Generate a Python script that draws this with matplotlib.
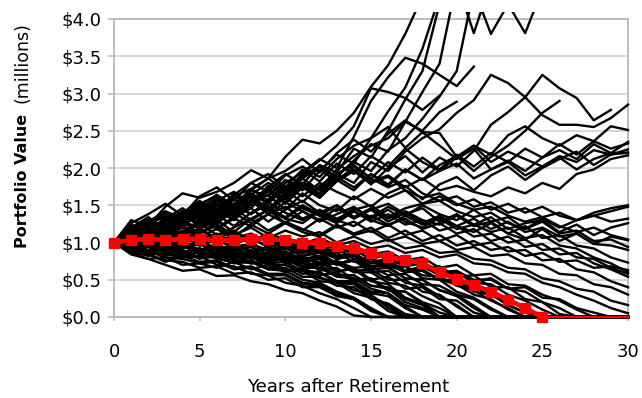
import matplotlib
matplotlib.use('Agg')
import matplotlib.pyplot as plt
from matplotlib.patches import Rectangle

nan = float('nan')

years = list(range(31))

# red reference path (markers up to year 25, then it sits on zero)
red_values = [1.00, 1.03, 1.05, 1.03, 1.05, 1.05, 1.03, 1.03, 1.05, 1.05,
              1.03, 1.00, 1.00, 0.95, 0.92, 0.86, 0.80, 0.77, 0.72, 0.60,
              0.51, 0.43, 0.34, 0.23, 0.12, 0.00, 0.00, 0.00, 0.00, 0.00, 0.00]

# simulated paths that run high (several leave the top of the chart)
high_paths = [
    [1.00, 1.30, 1.22, 1.48, 1.66, 1.60, 1.68, 1.80, 1.97, 1.86, 2.15, 2.38, 2.33, 2.50, 2.74, 3.09, 3.38, 3.80, 4.30, nan,
     nan, nan, nan, nan, nan, nan, nan, nan, nan, nan, nan],
    [1.00, 1.10, 1.28, 1.20, 1.42, 1.36, 1.58, 1.48, 1.70, 1.62, 1.84, 1.70, 1.96, 2.18, 2.06, 2.40, 2.76, 3.08, 3.60, 4.30,
     nan, nan, nan, nan, nan, nan, nan, nan, nan, nan, nan],
    [1.00, 1.22, 1.08, 1.30, 1.26, 1.48, 1.40, 1.66, 1.50, 1.74, 1.92, 1.78, 2.04, 1.94, 2.26, 2.14, 2.50, 2.92, 3.30, 4.20,
     nan, nan, nan, nan, nan, nan, nan, nan, nan, nan, nan],
    [1.00, 1.04, 1.24, 1.16, 1.40, 1.52, 1.34, 1.58, 1.46, 1.70, 1.60, 1.86, 2.02, 1.88, 2.10, 2.32, 2.22, 2.62, 3.02, 3.40,
     4.50, 3.81, 4.50, nan, nan, nan, nan, nan, nan, nan, nan],
    [1.00, 1.14, 1.00, 1.18, 1.10, 1.32, 1.44, 1.30, 1.52, 1.68, 1.54, 1.76, 1.64, 1.90, 2.08, 1.96, 2.24, 2.40, 2.66, 2.96,
     3.30, 4.40, 3.80, 4.20, 3.81, 4.40, nan, nan, nan, nan, nan],
    [1.00, 1.18, 1.30, 1.16, 1.36, 1.50, 1.38, 1.62, 1.72, 1.56, 1.80, 1.94, 2.12, 2.00, 2.42, 2.90, 3.22, 3.48, 3.40, 3.25,
     3.10, 3.36, nan, nan, nan, nan, nan, nan, nan, nan, nan],
    [1.00, 1.06, 1.24, 1.36, 1.22, 1.44, 1.56, 1.40, 1.64, 1.80, 1.68, 1.92, 2.10, 2.30, 2.56, 3.07, 3.02, 2.94, 2.78, 2.97,
     nan, nan, nan, nan, nan, nan, nan, nan, nan, nan, nan],
    [1.00, 1.02, 1.18, 1.06, 1.26, 1.20, 1.40, 1.32, 1.56, 1.70, 1.58, 1.80, 1.72, 1.98, 2.16, 2.30, 2.40, 2.62, 2.50, 2.75,
     2.89, nan, nan, nan, nan, nan, nan, nan, nan, nan, nan],
    [1.00, 1.12, 0.98, 1.16, 1.30, 1.18, 1.36, 1.52, 1.38, 1.58, 1.70, 1.54, 1.76, 1.92, 1.80, 2.08, 1.96, 2.22, 2.40, 2.52,
     2.74, 2.91, 3.25, 3.14, 2.95, 2.71, 2.58, 2.58, 2.55, 2.67, 2.85],
    [1.00, 1.04, 1.20, 1.08, 1.26, 1.40, 1.24, 1.46, 1.58, 1.42, 1.64, 1.78, 1.60, 1.82, 1.96, 1.78, 2.00, 2.16, 1.94, 2.14,
     2.02, 2.23, 2.58, 2.75, 2.95, 3.25, 3.07, 2.94, 2.64, 2.78, nan],
    [1.00, 1.20, 1.08, 1.28, 1.42, 1.26, 1.50, 1.36, 1.58, 1.72, 1.52, 1.74, 1.60, 1.84, 1.70, 1.92, 1.76, 1.98, 1.84, 2.04,
     2.16, 1.96, 2.15, 2.30, 2.50, 2.74, 2.90, nan, nan, nan, nan],
    [1.00, 1.14, 1.30, 1.16, 1.36, 1.52, 1.62, 1.46, 1.70, 1.86, 1.96, 2.12, 1.94, 2.20, 2.38, 2.22, 2.46, 2.64, 2.48, 2.30,
     2.12, 2.26, 1.98, 2.10, 1.96, 2.14, 2.24, 2.12, 2.32, 2.20, 2.35],
    [1.00, 1.08, 1.26, 1.40, 1.30, 1.54, 1.44, 1.64, 1.80, 1.68, 1.90, 2.02, 1.88, 2.12, 2.30, 2.40, 2.55, 2.27, 2.48, 2.47,
     2.15, 2.30, 2.08, 2.22, 2.12, 2.02, 2.16, 2.08, 2.24, 2.18, 2.25],
]

# paths that wander between $1.5 and $2.5
mid_paths = [
    [1.00, 1.20, 1.34, 1.18, 1.40, 1.56, 1.38, 1.62, 1.50, 1.72, 1.58, 1.80, 1.66, 1.88, 1.74, 1.92, 1.78, 1.98, 1.84, 1.96,
     2.06, 1.86, 1.98, 2.08, 1.90, 2.02, 2.14, 1.98, 2.12, 2.20, 2.20],
    [1.00, 1.08, 1.26, 1.40, 1.24, 1.46, 1.60, 1.42, 1.66, 1.52, 1.74, 1.86, 1.70, 1.92, 2.04, 1.86, 2.08, 1.94, 2.14, 1.98,
     2.18, 2.02, 2.20, 2.08, 2.26, 2.14, 2.32, 2.18, 2.36, 2.26, 2.33],
    [1.00, 1.26, 1.38, 1.52, 1.36, 1.62, 1.74, 1.56, 1.80, 1.92, 1.74, 1.98, 1.82, 2.06, 1.92, 2.16, 2.02, 2.26, 2.08, 1.96,
     2.14, 2.30, 2.18, 2.44, 2.56, 2.40, 2.30, 2.44, 2.36, 2.56, 2.51],
    [1.00, 1.16, 1.02, 1.24, 1.38, 1.22, 1.46, 1.30, 1.52, 1.64, 1.44, 1.66, 1.50, 1.42, 1.62, 1.48, 1.66, 1.76, 1.58, 1.78,
     1.88, 1.70, 1.90, 2.02, 1.84, 2.00, 2.12, 2.22, 2.04, 2.18, 2.21],
    [1.00, 1.06, 1.22, 1.10, 1.30, 1.44, 1.26, 1.50, 1.62, 1.44, 1.68, 1.80, 1.62, 1.84, 1.98, 1.82, 1.90, 1.74, 1.86, 1.70,
     1.76, 1.68, 1.62, 1.74, 1.66, 1.80, 1.72, 1.92, 1.98, 2.12, 2.17],
    [1.00, 1.14, 1.30, 1.20, 1.42, 1.34, 1.56, 1.68, 1.52, 1.76, 1.64, 1.88, 1.98, 1.82, 2.02, 1.86, 1.74, 1.84, 1.66, 1.56,
     1.62, 1.48, 1.54, 1.40, 1.46, 1.34, 1.40, 1.30, 1.36, 1.28, 1.32],
    [1.00, 1.22, 1.10, 1.32, 1.46, 1.30, 1.52, 1.40, 1.64, 1.54, 1.76, 1.62, 1.80, 1.68, 1.58, 1.72, 1.60, 1.70, 1.52, 1.62,
     1.50, 1.58, 1.44, 1.52, 1.40, 1.48, 1.36, 1.30, 1.40, 1.46, 1.50],
    [1.00, 1.10, 1.28, 1.42, 1.32, 1.50, 1.64, 1.50, 1.72, 1.86, 1.70, 1.90, 2.02, 1.86, 1.96, 1.80, 1.88, 1.70, 1.60, 1.66,
     1.52, 1.44, 1.48, 1.36, 1.28, 1.34, 1.22, 1.14, 1.20, 1.10, 1.04],
]

# paths still above zero at year 30, mostly $0 - $1.5
survivor_paths = [
    [1.00, 1.08, 0.96, 1.06, 1.12, 1.00, 1.10, 1.16, 1.02, 1.12, 1.04, 0.98, 1.06, 0.96, 1.02, 0.92, 0.96, 0.86, 0.90, 0.80,
     0.84, 0.72, 0.70, 0.60, 0.58, 0.46, 0.40, 0.30, 0.22, 0.12, 0.05],
    [1.00, 1.16, 1.04, 1.22, 1.28, 1.12, 1.24, 1.10, 1.20, 1.06, 1.16, 1.08, 1.14, 1.00, 1.08, 0.98, 1.04, 0.92, 0.96, 0.86,
     0.88, 0.78, 0.76, 0.66, 0.64, 0.52, 0.48, 0.38, 0.34, 0.22, 0.16],
    [1.00, 0.94, 1.06, 1.12, 0.98, 1.14, 1.22, 1.08, 1.24, 1.12, 1.26, 1.14, 1.08, 1.22, 1.10, 1.16, 1.02, 1.08, 0.98, 1.02,
     0.90, 0.94, 0.82, 0.84, 0.72, 0.70, 0.58, 0.56, 0.44, 0.40, 0.30],
    [1.00, 1.12, 1.24, 1.08, 1.26, 1.36, 1.18, 1.32, 1.22, 1.38, 1.26, 1.16, 1.32, 1.20, 1.28, 1.14, 1.24, 1.10, 1.16, 1.02,
     1.10, 0.96, 1.00, 0.88, 0.90, 0.76, 0.78, 0.64, 0.60, 0.48, 0.40],
    [1.00, 1.02, 1.16, 1.06, 1.22, 1.12, 1.28, 1.40, 1.26, 1.38, 1.48, 1.32, 1.42, 1.30, 1.22, 1.36, 1.24, 1.32, 1.18, 1.26,
     1.12, 1.18, 1.02, 1.08, 0.94, 0.98, 0.84, 0.86, 0.72, 0.64, 0.54],
    [1.00, 1.22, 1.10, 1.30, 1.40, 1.22, 1.34, 1.46, 1.30, 1.44, 1.32, 1.48, 1.36, 1.26, 1.42, 1.30, 1.22, 1.36, 1.24, 1.32,
     1.18, 1.24, 1.14, 1.20, 1.06, 1.10, 0.96, 0.92, 0.80, 0.72, 0.60],
    [1.00, 1.10, 0.98, 1.14, 1.24, 1.36, 1.20, 1.34, 1.46, 1.28, 1.44, 1.56, 1.40, 1.50, 1.34, 1.46, 1.32, 1.42, 1.30, 1.24,
     1.36, 1.22, 1.28, 1.12, 1.22, 1.06, 1.10, 0.96, 0.92, 0.80, 0.73],
    [1.00, 1.18, 1.30, 1.14, 1.34, 1.46, 1.28, 1.48, 1.56, 1.38, 1.54, 1.42, 1.30, 1.46, 1.32, 1.44, 1.28, 1.40, 1.26, 1.36,
     1.22, 1.32, 1.18, 1.28, 1.14, 1.20, 1.08, 1.12, 0.98, 0.96, 0.90],
    [1.00, 1.00, 1.14, 1.26, 1.10, 1.28, 1.38, 1.22, 1.40, 1.50, 1.32, 1.26, 1.42, 1.30, 1.46, 1.34, 1.48, 1.36, 1.50, 1.38,
     1.30, 1.44, 1.28, 1.34, 1.18, 1.28, 1.12, 1.16, 1.02, 1.04, 0.94],
    [1.00, 1.14, 1.24, 1.36, 1.20, 1.42, 1.52, 1.34, 1.56, 1.42, 1.60, 1.46, 1.36, 1.50, 1.34, 1.44, 1.52, 1.38, 1.46, 1.28,
     1.38, 1.24, 1.34, 1.18, 1.26, 1.30, 1.14, 1.24, 1.10, 1.20, 1.26],
    [1.00, 1.04, 1.18, 1.30, 1.38, 1.22, 1.40, 1.52, 1.62, 1.46, 1.34, 1.50, 1.38, 1.28, 1.44, 1.50, 1.34, 1.46, 1.52, 1.56,
     1.42, 1.34, 1.40, 1.26, 1.18, 1.32, 1.20, 1.30, 1.36, 1.42, 1.48],
    [1.00, 0.94, 1.08, 1.18, 1.02, 1.18, 1.30, 1.14, 1.32, 1.44, 1.26, 1.42, 1.28, 1.38, 1.48, 1.32, 1.44, 1.28, 1.20, 1.34,
     1.22, 1.14, 1.26, 1.12, 1.04, 1.18, 1.02, 1.12, 0.98, 1.08, 1.03],
    [1.00, 1.06, 1.18, 1.04, 1.14, 1.26, 1.10, 1.20, 1.32, 1.16, 1.28, 1.18, 1.10, 1.24, 1.12, 1.20, 1.06, 1.16, 1.02, 1.10,
     0.96, 1.02, 0.90, 0.94, 0.82, 0.86, 0.74, 0.76, 0.66, 0.68, 0.63],
    [1.00, 1.24, 1.14, 1.34, 1.24, 1.44, 1.32, 1.50, 1.38, 1.54, 1.40, 1.30, 1.44, 1.32, 1.42, 1.28, 1.38, 1.24, 1.30, 1.16,
     1.22, 1.08, 1.12, 1.00, 1.04, 0.90, 0.92, 0.80, 0.78, 0.66, 0.58],
]

# paths that run out of money before year 30
depleted_paths = [
    [1.00, 0.86, 0.78, 0.70, 0.62, 0.64, 0.55, 0.56, 0.48, 0.44, 0.36, 0.32, 0.22, 0.14, 0.02, 0, 0, 0, 0, 0,
     0, 0, 0, 0, 0, 0, 0, 0, 0, 0, 0],
    [1.00, 0.92, 0.98, 0.84, 0.80, 0.82, 0.70, 0.68, 0.58, 0.56, 0.46, 0.42, 0.32, 0.24, 0.12, 0, 0, 0, 0, 0,
     0, 0, 0, 0, 0, 0, 0, 0, 0, 0, 0],
    [1.00, 1.06, 0.94, 0.92, 0.96, 0.84, 0.86, 0.74, 0.74, 0.64, 0.62, 0.50, 0.46, 0.34, 0.26, 0.12, 0, 0, 0, 0,
     0, 0, 0, 0, 0, 0, 0, 0, 0, 0, 0],
    [1.00, 0.86, 0.84, 0.74, 0.82, 0.74, 0.76, 0.66, 0.68, 0.58, 0.58, 0.46, 0.44, 0.32, 0.24, 0.10, 0, 0, 0, 0,
     0, 0, 0, 0, 0, 0, 0, 0, 0, 0, 0],
    [1.00, 1.12, 1.00, 0.96, 1.02, 0.88, 0.92, 0.80, 0.84, 0.72, 0.74, 0.62, 0.60, 0.46, 0.44, 0.28, 0.16, 0, 0, 0,
     0, 0, 0, 0, 0, 0, 0, 0, 0, 0, 0],
    [1.00, 0.94, 0.88, 0.96, 0.84, 0.80, 0.88, 0.76, 0.72, 0.74, 0.62, 0.64, 0.52, 0.48, 0.36, 0.30, 0.12, 0, 0, 0,
     0, 0, 0, 0, 0, 0, 0, 0, 0, 0, 0],
    [1.00, 1.04, 1.12, 0.98, 0.94, 1.02, 0.90, 0.94, 0.82, 0.86, 0.74, 0.72, 0.66, 0.54, 0.52, 0.38, 0.32, 0.14, 0, 0,
     0, 0, 0, 0, 0, 0, 0, 0, 0, 0, 0],
    [1.00, 0.88, 0.82, 0.90, 0.80, 0.88, 0.78, 0.74, 0.80, 0.70, 0.70, 0.62, 0.60, 0.48, 0.46, 0.32, 0.28, 0.12, 0, 0,
     0, 0, 0, 0, 0, 0, 0, 0, 0, 0, 0],
    [1.00, 1.14, 1.04, 1.14, 1.00, 0.96, 1.04, 0.92, 0.94, 0.84, 0.88, 0.74, 0.78, 0.62, 0.64, 0.48, 0.44, 0.26, 0.18, 0,
     0, 0, 0, 0, 0, 0, 0, 0, 0, 0, 0],
    [1.00, 0.92, 1.00, 0.88, 0.84, 0.92, 0.82, 0.78, 0.86, 0.74, 0.78, 0.66, 0.66, 0.56, 0.56, 0.42, 0.40, 0.24, 0.16, 0,
     0, 0, 0, 0, 0, 0, 0, 0, 0, 0, 0],
    [1.00, 1.06, 0.96, 1.04, 0.94, 0.90, 0.98, 0.86, 0.84, 0.92, 0.80, 0.82, 0.70, 0.72, 0.60, 0.60, 0.46, 0.42, 0.28, 0.18,
     0, 0, 0, 0, 0, 0, 0, 0, 0, 0, 0],
    [1.00, 0.84, 0.78, 0.80, 0.70, 0.72, 0.66, 0.74, 0.64, 0.70, 0.60, 0.66, 0.56, 0.60, 0.48, 0.50, 0.36, 0.34, 0.20, 0.12,
     0, 0, 0, 0, 0, 0, 0, 0, 0, 0, 0],
    [1.00, 1.10, 1.18, 1.06, 1.08, 0.98, 1.04, 0.94, 0.98, 0.88, 0.94, 0.82, 0.86, 0.72, 0.76, 0.60, 0.62, 0.46, 0.42, 0.28,
     0.16, 0, 0, 0, 0, 0, 0, 0, 0, 0, 0],
    [1.00, 0.98, 0.88, 0.96, 0.86, 0.92, 0.82, 0.90, 0.80, 0.84, 0.76, 0.82, 0.70, 0.76, 0.62, 0.64, 0.50, 0.50, 0.34, 0.30,
     0.14, 0, 0, 0, 0, 0, 0, 0, 0, 0, 0],
    [1.00, 1.04, 0.94, 0.90, 0.98, 0.88, 0.92, 0.84, 0.90, 0.80, 0.88, 0.78, 0.82, 0.72, 0.76, 0.64, 0.66, 0.52, 0.50, 0.36,
     0.30, 0.15, 0, 0, 0, 0, 0, 0, 0, 0, 0],
    [1.00, 1.18, 1.06, 1.14, 1.20, 1.06, 1.10, 1.00, 1.06, 0.94, 0.98, 0.86, 0.92, 0.78, 0.82, 0.68, 0.68, 0.52, 0.50, 0.36,
     0.28, 0.12, 0, 0, 0, 0, 0, 0, 0, 0, 0],
    [1.00, 0.90, 0.98, 0.86, 0.84, 0.92, 0.80, 0.88, 0.78, 0.86, 0.76, 0.80, 0.72, 0.74, 0.66, 0.68, 0.56, 0.58, 0.44, 0.42,
     0.30, 0.24, 0.10, 0, 0, 0, 0, 0, 0, 0, 0],
    [1.00, 1.08, 1.16, 1.02, 1.12, 1.18, 1.04, 1.08, 1.00, 1.06, 0.92, 0.98, 0.86, 0.92, 0.78, 0.80, 0.66, 0.68, 0.52, 0.50,
     0.34, 0.26, 0.12, 0, 0, 0, 0, 0, 0, 0, 0],
    [1.00, 0.96, 1.06, 0.96, 0.92, 1.02, 0.92, 0.96, 0.88, 0.94, 0.84, 0.90, 0.80, 0.86, 0.74, 0.78, 0.66, 0.68, 0.56, 0.54,
     0.42, 0.36, 0.22, 0.12, 0, 0, 0, 0, 0, 0, 0],
    [1.00, 1.12, 1.02, 0.98, 1.08, 0.96, 1.04, 0.94, 0.98, 0.90, 0.96, 0.86, 0.90, 0.80, 0.84, 0.72, 0.74, 0.62, 0.62, 0.50,
     0.44, 0.30, 0.24, 0.10, 0, 0, 0, 0, 0, 0, 0],
    [1.00, 0.92, 0.86, 0.94, 0.84, 0.92, 0.84, 0.80, 0.88, 0.78, 0.84, 0.76, 0.80, 0.72, 0.76, 0.68, 0.70, 0.60, 0.62, 0.50,
     0.50, 0.38, 0.32, 0.16, 0.06, 0, 0, 0, 0, 0, 0],
    [1.00, 1.06, 1.14, 1.20, 1.08, 1.04, 1.12, 1.00, 1.04, 0.96, 1.04, 0.92, 0.96, 0.86, 0.90, 0.78, 0.84, 0.70, 0.72, 0.60,
     0.60, 0.46, 0.44, 0.30, 0.22, 0.10, 0, 0, 0, 0, 0],
    [1.00, 0.94, 1.02, 0.92, 1.00, 0.90, 0.94, 0.88, 0.94, 0.84, 0.92, 0.82, 0.88, 0.78, 0.84, 0.74, 0.78, 0.68, 0.72, 0.60,
     0.62, 0.50, 0.50, 0.38, 0.34, 0.20, 0.12, 0, 0, 0, 0],
    [1.00, 1.14, 1.24, 1.10, 1.20, 1.08, 1.18, 1.06, 1.12, 1.00, 1.08, 0.96, 1.02, 0.90, 0.96, 0.84, 0.88, 0.76, 0.80, 0.66,
     0.70, 0.56, 0.58, 0.44, 0.42, 0.30, 0.22, 0.10, 0, 0, 0],
    [1.00, 0.88, 0.84, 0.92, 0.82, 0.80, 0.86, 0.78, 0.80, 0.74, 0.80, 0.72, 0.78, 0.70, 0.76, 0.68, 0.72, 0.62, 0.68, 0.56,
     0.60, 0.48, 0.52, 0.38, 0.40, 0.26, 0.24, 0.12, 0.06, 0, 0],
    [1.00, 0.90, 0.88, 0.80, 0.78, 0.72, 0.74, 0.64, 0.66, 0.56, 0.56, 0.44, 0.42, 0.30, 0.24, 0.08, 0, 0, 0, 0,
     0, 0, 0, 0, 0, 0, 0, 0, 0, 0, 0],
    [1.00, 1.08, 0.98, 0.98, 0.88, 0.90, 0.80, 0.84, 0.72, 0.74, 0.62, 0.62, 0.48, 0.46, 0.32, 0.26, 0.08, 0, 0, 0,
     0, 0, 0, 0, 0, 0, 0, 0, 0, 0, 0],
    [1.00, 0.96, 0.94, 0.84, 0.90, 0.80, 0.80, 0.72, 0.74, 0.64, 0.66, 0.54, 0.54, 0.42, 0.40, 0.24, 0.18, 0.04, 0, 0,
     0, 0, 0, 0, 0, 0, 0, 0, 0, 0, 0],
    [1.00, 0.88, 0.84, 0.76, 0.74, 0.66, 0.68, 0.58, 0.60, 0.50, 0.52, 0.40, 0.40, 0.28, 0.24, 0.10, 0, 0, 0, 0,
     0, 0, 0, 0, 0, 0, 0, 0, 0, 0, 0],
    [1.00, 1.02, 1.08, 0.98, 1.00, 0.90, 0.94, 0.84, 0.88, 0.76, 0.80, 0.68, 0.70, 0.56, 0.56, 0.42, 0.38, 0.20, 0.12, 0,
     0, 0, 0, 0, 0, 0, 0, 0, 0, 0, 0],
    [1.00, 1.10, 0.96, 1.04, 0.92, 0.98, 0.86, 0.92, 0.80, 0.86, 0.72, 0.78, 0.62, 0.66, 0.50, 0.52, 0.36, 0.34, 0.18, 0.06,
     0, 0, 0, 0, 0, 0, 0, 0, 0, 0, 0],
    [1.00, 0.94, 1.04, 0.90, 0.96, 0.84, 0.92, 0.80, 0.86, 0.74, 0.80, 0.68, 0.74, 0.60, 0.66, 0.50, 0.54, 0.38, 0.40, 0.24,
     0.22, 0.06, 0, 0, 0, 0, 0, 0, 0, 0, 0],
    [1.00, 1.04, 1.16, 1.06, 1.16, 1.02, 1.10, 0.98, 1.06, 0.94, 1.00, 0.88, 0.94, 0.82, 0.86, 0.72, 0.76, 0.62, 0.64, 0.50,
     0.48, 0.34, 0.30, 0.16, 0.06, 0, 0, 0, 0, 0, 0],
    [1.00, 0.98, 0.90, 0.82, 0.88, 0.78, 0.84, 0.74, 0.76, 0.66, 0.70, 0.58, 0.60, 0.48, 0.48, 0.34, 0.32, 0.16, 0.10, 0,
     0, 0, 0, 0, 0, 0, 0, 0, 0, 0, 0],
    [1.00, 1.16, 1.08, 1.22, 1.12, 1.18, 1.06, 1.14, 1.02, 1.08, 0.96, 1.02, 0.90, 0.96, 0.84, 0.88, 0.76, 0.80, 0.66, 0.68,
     0.54, 0.56, 0.40, 0.40, 0.24, 0.20, 0.04, 0, 0, 0, 0],
]

y_ticks = [0.0, 0.5, 1.0, 1.5, 2.0, 2.5, 3.0, 3.5, 4.0]
y_tick_labels = ['$0.0', '$0.5', '$1.0', '$1.5', '$2.0', '$2.5', '$3.0', '$3.5', '$4.0']
x_ticks = [0, 5, 10, 15, 20, 25, 30]

W, H = 642, 398
fig = plt.figure(figsize=(W / 100, H / 100), dpi=100)
ax = fig.add_axes([114 / W, 1 - 317 / H, 514 / W, 298 / H])

# lines may poke a few pixels above the plot area, like the original
clip = Rectangle((-0.03, -0.02), 1.06, 1.042, transform=ax.transAxes)

for group in (depleted_paths, survivor_paths, mid_paths, high_paths):
    for path in group:
        ln, = ax.plot(years, path, color='black', lw=1.7, zorder=3)
        ln.set_clip_path(clip)

ax.plot(years[:26], red_values[:26], color='#ff0000', lw=3.4, marker='s', ms=7.8,
        mec='#ff0000', mfc='#ff0000', zorder=5, clip_on=False)
ax.plot(years[25:], red_values[25:], color='#ff0000', lw=1.6, zorder=5, clip_on=False)

ax.set_xlim(0, 30)
ax.set_ylim(0, 4.0)
ax.set_yticks(y_ticks)
ax.set_yticklabels(y_tick_labels)
ax.set_xticks(x_ticks)

ax.yaxis.grid(True, color='#d4d4d4', lw=1.3)
ax.set_axisbelow(True)
for s in ax.spines.values():
    s.set_color('#bcbcbc')
    s.set_linewidth(1.4)

ax.tick_params(axis='both', colors='#bcbcbc', labelcolor='black', labelsize=13, width=1.2)
ax.tick_params(axis='y', length=4, pad=5)
ax.tick_params(axis='x', length=3, pad=16)

fig.text(348 / W, 1 - 387 / H, 'Years after Retirement', ha='center', va='center', fontsize=13)
fig.text(23 / W, 1 - 248 / H, 'Portfolio Value', rotation=90, ha='center', va='bottom',
         fontsize=11.5, fontweight='bold')
fig.text(23 / W, 1 - 22 / H, '(millions)', rotation=90, ha='center', va='top', fontsize=12.5)

plt.savefig('out.png', dpi=100, facecolor='white')
plt.close()
